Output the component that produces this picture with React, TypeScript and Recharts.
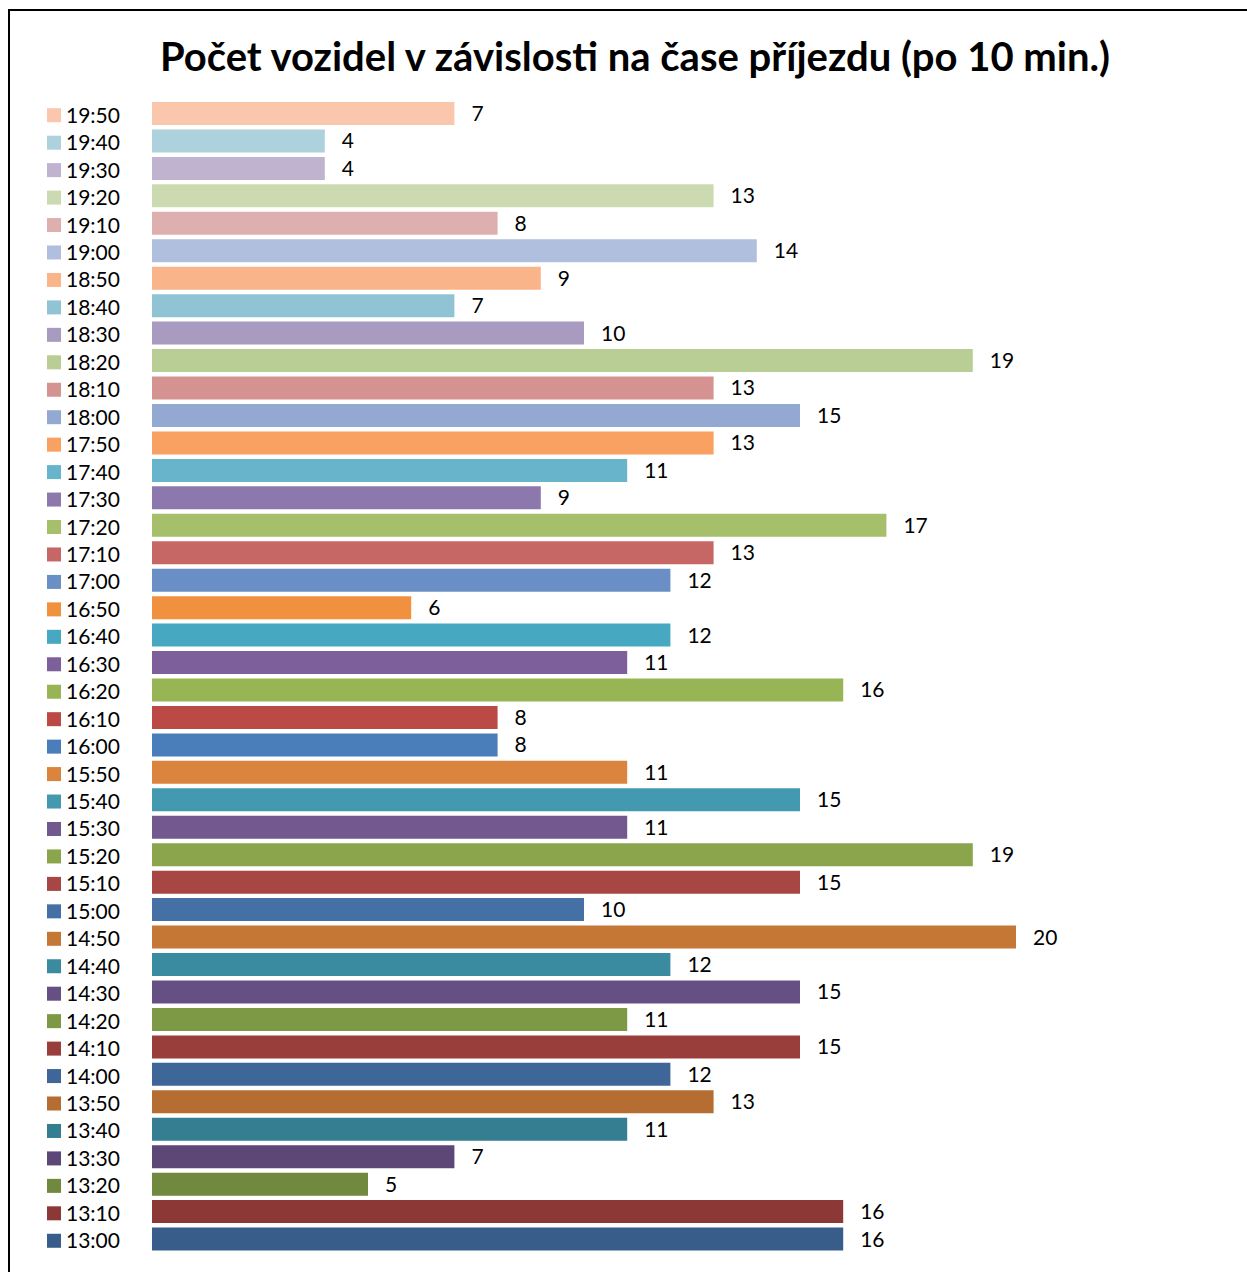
import { Bar, BarChart, Cell, LabelList, XAxis, YAxis } from 'recharts'

// casy prijezdu po 10 min., chronologicky
const casy = [
  '13:00', '13:10', '13:20', '13:30', '13:40', '13:50',
  '14:00', '14:10', '14:20', '14:30', '14:40', '14:50',
  '15:00', '15:10', '15:20', '15:30', '15:40', '15:50',
  '16:00', '16:10', '16:20', '16:30', '16:40', '16:50',
  '17:00', '17:10', '17:20', '17:30', '17:40', '17:50',
  '18:00', '18:10', '18:20', '18:30', '18:40', '18:50',
  '19:00', '19:10', '19:20', '19:30', '19:40', '19:50',
]

const pocty = [
  16, 16, 5, 7, 11, 13,
  12, 15, 11, 15, 12, 20,
  10, 15, 19, 11, 15, 11,
  8, 8, 16, 11, 12, 6,
  12, 13, 17, 9, 11, 13,
  15, 13, 19, 10, 7, 9,
  14, 8, 13, 4, 4, 7,
]

const xDomain = [0, 20]

// excel 2007 "vary colors by point" - 7 odstinu x 6 barev
const PALETTE = [
  '#385D8A', '#8C3836', '#71893F', '#5C4776', '#357D91', '#B66D31',
  '#3E6698', '#9A3E3C', '#7E9945', '#664F83', '#3B8BA0', '#C57735',
  '#4470A6', '#A84643', '#8AA54C', '#72588F', '#4299B0', '#DB843D',
  '#4A7EBB', '#BB4A47', '#97B555', '#7C5F9B', '#47A8C1', '#F0913F',
  '#6A8FC6', '#C66766', '#A6BF6B', '#8D78AD', '#67B4CB', '#F9A063',
  '#94A9D2', '#D49391', '#B9CE94', '#A99BC0', '#90C4D5', '#FAB48A',
  '#B0BFDD', '#DDB0AF', '#CCDAB2', '#BFB3CF', '#ADD2DE', '#FBC7AC',
]

const data = casy.map((cas, i) => ({ cas, pocet: pocty[i] }))

const FONT = 'Lato, "Liberation Sans", sans-serif'

function LegendTick(props: any) {
  const { y, payload } = props
  const i = casy.indexOf(payload.value)
  return (
    <g>
      <rect x={47} y={y - 5.5} width={14} height={14} fill={PALETTE[i]} />
      <text x={66} y={y + 9} fontSize={21} fontFamily={FONT} fill="#000">
        {payload.value}
      </text>
    </g>
  )
}

export default function App() {
  return (
    <div
      style={{
        position: 'absolute',
        left: 0,
        top: 0,
        width: 1247,
        height: 1272,
        overflow: 'hidden',
        background: '#fff',
      }}
    >
      <div
        style={{
          position: 'absolute',
          left: 8,
          top: 9,
          width: 1300,
          height: 1300,
          border: '2px solid #000',
        }}
      />
      <div
        style={{
          position: 'absolute',
          left: 0,
          top: 32,
          width: 1270,
          textAlign: 'center',
          fontFamily: FONT,
          fontWeight: 700,
          fontSize: 40,
          color: '#000',
        }}
      >
        Počet vozidel v závislosti na čase příjezdu (po 10 min.)
      </div>
      <div style={{ position: 'absolute', left: 0, top: 0 }}>
        <BarChart
          width={1247}
          height={1272}
          data={data}
          layout="vertical"
          margin={{ top: 100, right: 231, bottom: 19, left: 0 }}
          barSize={23}
        >
          <XAxis type="number" domain={xDomain} hide />
          <YAxis
            type="category"
            dataKey="cas"
            reversed
            width={152}
            interval={0}
            axisLine={false}
            tickLine={false}
            tick={<LegendTick />}
          />
          <Bar dataKey="pocet" isAnimationActive={false}>
            {data.map((d, i) => (
              <Cell key={d.cas} fill={PALETTE[i]} />
            ))}
            <LabelList
              dataKey="pocet"
              position="right"
              offset={17}
              fontSize={21}
              fontFamily={FONT}
              fill="#000"
            />
          </Bar>
        </BarChart>
      </div>
    </div>
  )
}
